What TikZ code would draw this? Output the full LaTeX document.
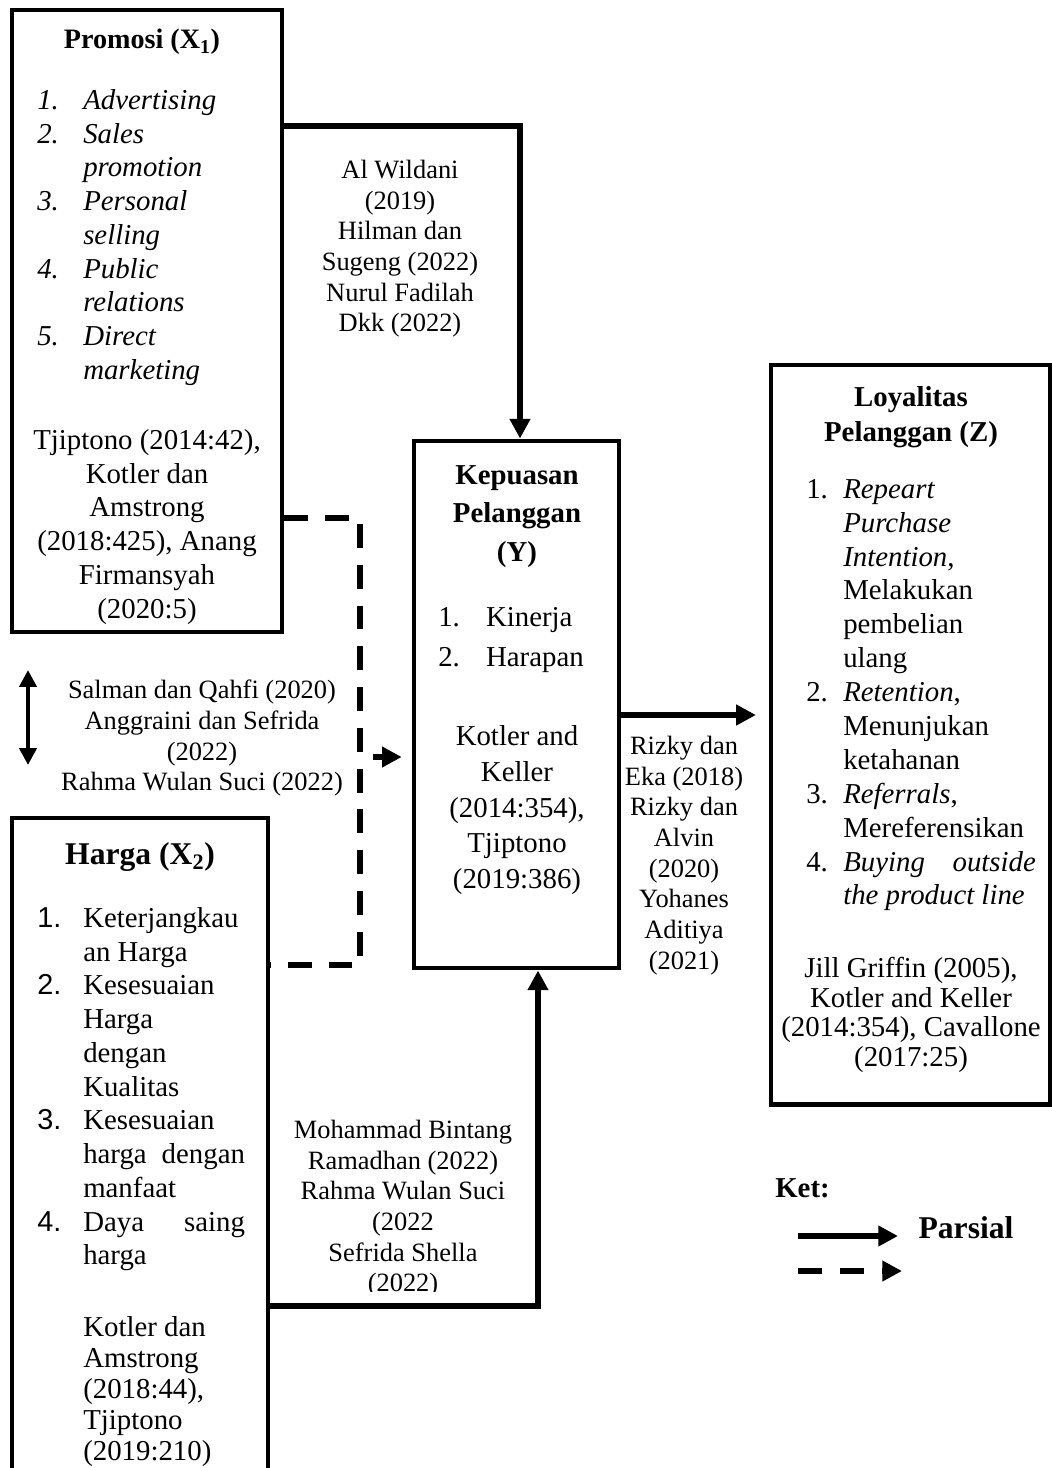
\documentclass[tikz,border=0pt]{standalone}
\usepackage{fontspec}
\setmainfont{Liberation Serif}
\newfontfamily\arialfont{Liberation Sans}
\usetikzlibrary{arrows.meta}
\newcommand{\nb}[2]{\makebox[#1][l]{#2}}
\tikzset{
  box/.style={draw, line width=3.4pt, inner sep=0pt},
  body/.style={font=\fontsize{20.5}{24}\selectfont, inner sep=0pt},
  ref/.style={font=\fontsize{18.8}{21.8}\selectfont, align=center, inner sep=0pt, anchor=north},
  conn/.style={line width=3.8pt, -{Triangle[length=14pt,width=14pt]}},
  dashline/.style={line width=3.8pt, dash pattern=on 17pt off 12pt},
}

\begin{document}
\begin{tikzpicture}[x=0.025cm, y=-0.025cm]
\path[use as bounding box, clip] (0,0) rectangle (1052,1468);

% boxes
\node[box, minimum width=6.75cm, minimum height=15.55cm] (promosi) at (147,321) {};
\node[box, minimum width=5.125cm, minimum height=13.175cm] (kepuasan) at (516.5,704.5) {};
\node[box, minimum width=6.975cm, minimum height=18.475cm] (loyalitas) at (910.5,734.5) {};
\node[box, minimum width=6.4cm, minimum height=17.05cm] (harga) at (140,1159) {};

% Promosi
\node[body, font=\fontsize{20}{24}\selectfont\bfseries] (promosiT) at (142,42) {Promosi (X\textsubscript{1})};
\node[body, font=\fontsize{20.5}{24}\selectfont\itshape, align=left, anchor=north west] (promosiI) at (37,89) {%
\nb{32.7pt}{1.}Advertising\\
\nb{32.7pt}{2.}Sales\\
\hspace*{32.7pt}promotion\\
\nb{32.7pt}{3.}Personal\\
\hspace*{32.7pt}selling\\
\nb{32.7pt}{4.}Public\\
\hspace*{32.7pt}relations\\
\nb{32.7pt}{5.}Direct\\
\hspace*{32.7pt}marketing};
\node[body, align=center, anchor=north] (promosiR) at (147,429) {Tjiptono (2014:42),\\Kotler dan\\Amstrong\\(2018:425), Anang\\Firmansyah\\(2020:5)};

% Kepuasan
\node[body, font=\fontsize{20.5}{27.4}\selectfont\bfseries, align=center, anchor=north] (kepuasanT) at (517,465) {Kepuasan\\Pelanggan\\(Y)};
\node[body, font=\fontsize{20.5}{28.5}\selectfont, align=left, anchor=north west] (kepuasanI) at (438,607) {%
\nb{34pt}{1.}Kinerja\\
\nb{34pt}{2.}Harapan};
\node[body, font=\fontsize{20.5}{25.5}\selectfont, align=center, anchor=north] (kepuasanR) at (517,725) {Kotler and\\Keller\\(2014:354),\\Tjiptono\\(2019:386)};

% Loyalitas
\node[body, font=\fontsize{20.5}{25}\selectfont\bfseries, align=center, anchor=north] (loyalitasT) at (911,386) {Loyalitas\\Pelanggan (Z)};
\node[body, font=\fontsize{20.5}{24.1}\selectfont, align=left, anchor=north west] (loyalitasI) at (806,479) {%
\nb{26.3pt}{1.}\textit{Repeart}\\
\hspace*{26.3pt}\textit{Purchase}\\
\hspace*{26.3pt}\textit{Intention},\\
\hspace*{26.3pt}Melakukan\\
\hspace*{26.3pt}pembelian\\
\hspace*{26.3pt}ulang\\
\nb{26.3pt}{2.}\textit{Retention},\\
\hspace*{26.3pt}Menunjukan\\
\hspace*{26.3pt}ketahanan\\
\nb{26.3pt}{3.}\textit{Referrals},\\
\hspace*{26.3pt}Mereferensikan\\
\nb{26.3pt}{4.}\makebox[137pt][s]{\textit{Buying outside}}\\
\hspace*{26.3pt}\textit{the product line}};
\node[body, font=\fontsize{20.5}{21.1}\selectfont, align=center, anchor=north] (loyalitasR) at (911,957) {Jill Griffin (2005),\\Kotler and Keller\\(2014:354), Cavallone\\(2017:25)};

% Harga
\node[body, font=\fontsize{22.5}{26}\selectfont\bfseries] (hargaT) at (140,857) {Harga (X\textsubscript{2})};
\node[body, font=\fontsize{20.5}{24}\selectfont, align=left, anchor=north west] (hargaI) at (37,907) {%
\nb{32.7pt}{\arialfont 1.}Keterjangkau\\
\hspace*{32.7pt}an Harga\\
\nb{32.7pt}{\arialfont 2.}Kesesuaian\\
\hspace*{32.7pt}Harga\\
\hspace*{32.7pt}dengan\\
\hspace*{32.7pt}Kualitas\\
\nb{32.7pt}{\arialfont 3.}Kesesuaian\\
\hspace*{32.7pt}\makebox[115pt][s]{harga dengan}\\
\hspace*{32.7pt}manfaat\\
\nb{32.7pt}{\arialfont 4.}\makebox[115pt][s]{Daya saing}\\
\hspace*{32.7pt}harga};
\node[body, font=\fontsize{20.5}{22}\selectfont, align=left, anchor=north west] (hargaR) at (83,1316) {Kotler dan\\Amstrong\\(2018:44),\\Tjiptono\\(2019:210)};

% connectors
\coordinate (ka) at (520,126);
\draw[conn] (promosi.east |- ka) -- (ka) -- (ka |- kepuasan.north);
\node[ref] (refA) at (400,160) {Al Wildani\\(2019)\\Hilman dan\\Sugeng (2022)\\Nurul Fadilah\\Dkk (2022)};

\coordinate (dj) at (360,965);
\coordinate (dt) at (360,518);
\draw[dashline] (promosi.east |- dt) -- (dt) -- (dj) -- (harga.east |- dj);
\coordinate (ds) at (373,757);
\draw[conn] (ds) -- ([xshift=-7pt]kepuasan.west |- ds);

\coordinate (kb) at (538,1306);
\draw[conn] (harga.east |- kb) -- (kb) -- (kb |- kepuasan.south);
\begin{scope}
\clip (280,1100) rectangle (530,1291);
\node[ref] (refD) at (403,1120) {Mohammad Bintang\\Ramadhan (2022)\\Rahma Wulan Suci\\(2022\\Sefrida Shella\\(2022)};
\end{scope}

\coordinate (ky) at (622,715);
\draw[conn] (kepuasan.east |- ky) -- ([xshift=-9pt]loyalitas.west |- ky);
\node[ref] (refC) at (684,736) {Rizky dan\\Eka (2018)\\Rizky dan\\Alvin\\(2020)\\Yohanes\\Aditiya\\(2021)};

\coordinate (ua) at (28,670);
\coordinate (ub) at (28,765);
\draw[line width=3.2pt, {Triangle[length=12pt,width=12pt]}-{Triangle[length=12pt,width=12pt]}] (ua) -- (ub);
\node[ref] (refB) at (202,680) {Salman dan Qahfi (2020)\\Anggraini dan Sefrida\\(2022)\\Rahma Wulan Suci (2022)};

% legend
\node[body, font=\fontsize{20.5}{24}\selectfont\bfseries, anchor=west] (ket) at (775,1188) {Ket:};
\coordinate (la) at (798,1236);
\coordinate (lb) at (898,1236);
\draw[conn] (la) -- (lb);
\node[body, font=\fontsize{22.5}{26}\selectfont\bfseries] (parsial) at (966,1228) {Parsial};
\coordinate (lc) at (798,1271);
\coordinate (ld) at (902,1271);
\draw[conn, dash pattern=on 17pt off 13pt] (lc) -- (ld);
\end{tikzpicture}
\end{document}
